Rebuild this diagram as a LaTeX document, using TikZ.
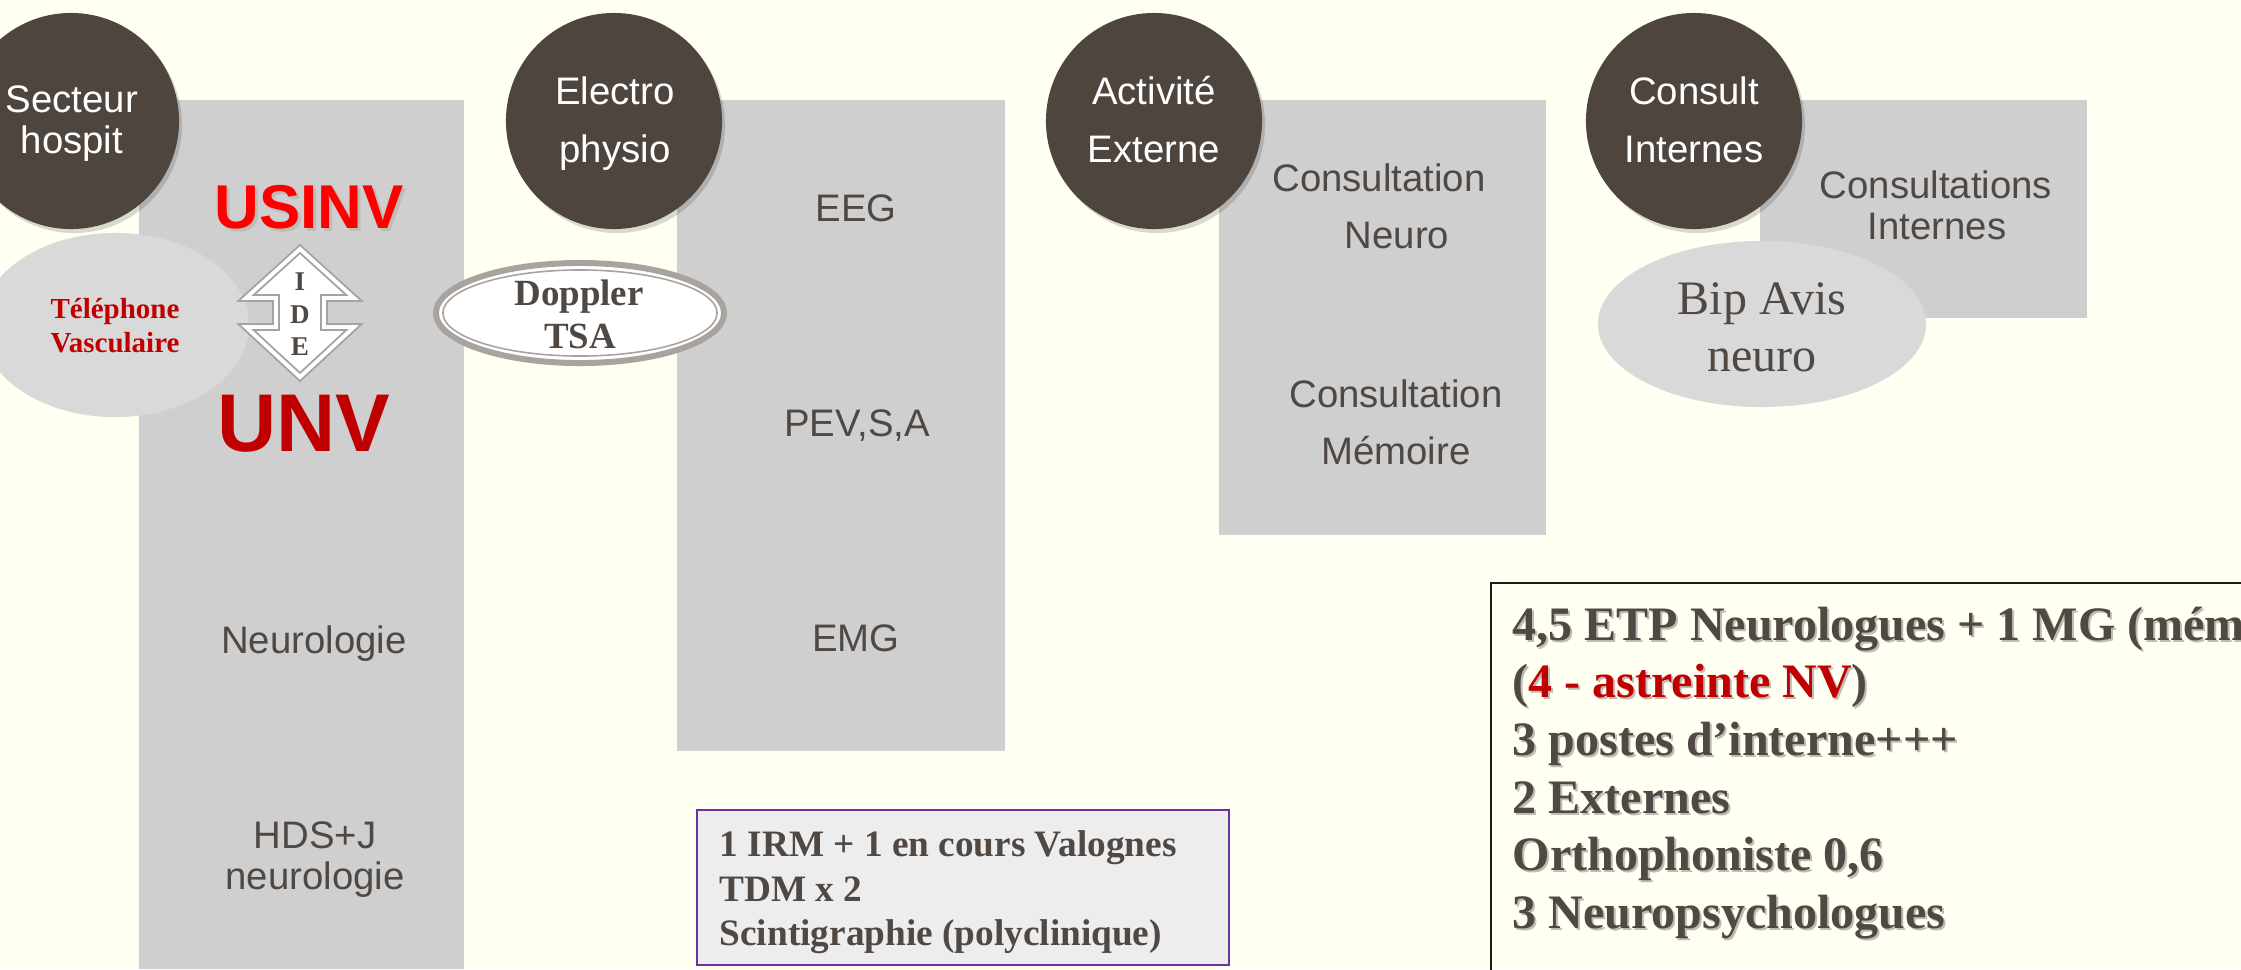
\documentclass[tikz,border=0pt]{standalone}
\usepackage{fontspec}
\setmainfont{Liberation Serif}
\setsansfont{Liberation Sans}
\definecolor{bgcream}{RGB}{255,255,242}
\definecolor{colgray}{RGB}{207,207,207}
\definecolor{darkc}{RGB}{79,69,63}
\definecolor{txtc}{RGB}{80,72,67}
\definecolor{lightc}{RGB}{217,217,217}
\definecolor{redA}{RGB}{255,0,0}
\definecolor{redB}{RGB}{192,0,0}
\definecolor{edgegray}{RGB}{168,163,158}
\definecolor{boxfill}{RGB}{237,237,237}
\definecolor{boxedge}{RGB}{112,48,160}
\definecolor{shadowc}{RGB}{190,188,182}
\tikzset{
  headc/.style={circle, fill=darkc, minimum size=2.16cm, inner sep=0pt},
  sanst/.style={font=\sffamily\fontsize{10.9}{13}\selectfont, inner sep=0pt, anchor=base},
  headtxt/.style={sanst, text=white},
  coltxt/.style={sanst, text=txtc},
  teltxt/.style={font=\bfseries\fontsize{8.25}{10}\selectfont, text=redB, inner sep=0pt, anchor=base},
  idetxt/.style={font=\bfseries\fontsize{7.7}{9}\selectfont, text=txtc, inner sep=0pt, anchor=base},
  dopptxt/.style={font=\bfseries\fontsize{10.5}{12.8}\selectfont, text=txtc, inner sep=0pt, anchor=base},
  biptxt/.style={font=\fontsize{13.66}{16.2}\selectfont, text=txtc, inner sep=0pt, anchor=base},
  irmtxt/.style={font=\bfseries\fontsize{10.6}{12.8}\selectfont, text=txtc, inner sep=0pt, anchor=base west},
  rtxt/.style={font=\bfseries\fontsize{13.66}{16.4}\selectfont, text=txtc, inner sep=0pt, anchor=base west},
  rshadow/.style={rtxt, text=shadowc},
}
\begin{document}
\begin{tikzpicture}[x=0.01cm,y=-0.01cm]
\useasboundingbox (0,0) rectangle (2241,969);
\fill[bgcream] (0,0) rectangle (2241,969);

% gray columns
\fill[colgray] (139,100) rectangle (464,969);
\fill[colgray] (677,100) rectangle (1005,751);
\fill[colgray] (1219,100) rectangle (1546,535);
\fill[colgray] (1760,100) rectangle (2087,318);

% heading circles with soft shadow
\foreach \cx in {71,614,1154,1694}
  \fill[black,opacity=0.15] (\cx+3,125) circle[radius=1.08cm];
\node[headc] (h1) at (71,121) {};
\node[headc] (h2) at (614,121) {};
\node[headc] (h3) at (1154,121) {};
\node[headc] (h4) at (1694,121) {};
\node[headtxt] (h1a) at (72,112) {Secteur};
\node[headtxt] (h1b) at (72,153) {hospit};
\node[headtxt] (h2a) at (615,104) {Electro};
\node[headtxt] (h2b) at (615,162) {physio};
\node[headtxt] (h3a) at (1154,104) {Activité};
\node[headtxt] (h3b) at (1154,162) {Externe};
\node[headtxt] (h4a) at (1694,104) {Consult};
\node[headtxt] (h4b) at (1694,162) {Internes};

% column 1
\fill[lightc] (115,325) ellipse[x radius=1.34cm, y radius=0.92cm];
\node[teltxt] (tel1) at (115,318) {Téléphone};
\node[teltxt] (tel2) at (115,352) {Vasculaire};
\node[font=\sffamily\bfseries\fontsize{17.6}{20}\selectfont, text=shadowc, inner sep=0pt, anchor=base] (usinvs) at (312,231) {USINV};
\node[font=\sffamily\bfseries\fontsize{17.6}{20}\selectfont, text=redA, inner sep=0pt, anchor=base] (usinv) at (309,228) {USINV};
\node[font=\sffamily\bfseries\fontsize{23.3}{26}\selectfont, text=redB, inner sep=0pt, anchor=base] (unv) at (304,451) {UNV};
\path[fill=white, draw=edgegray, line width=2.2pt]
  (300,249) -- (354,298) -- (324,298) -- (324,327) -- (354,327) -- (300,377)
  -- (246,327) -- (276,327) -- (276,298) -- (246,298) -- cycle;
\path[draw=white, line width=1.1pt]
  (300,249) -- (354,298) -- (324,298) -- (324,327) -- (354,327) -- (300,377)
  -- (246,327) -- (276,327) -- (276,298) -- (246,298) -- cycle;
\node[idetxt] (ideI) at (300,290) {I};
\node[idetxt] (ideD) at (300,323) {D};
\node[idetxt] (ideE) at (300,355) {E};
\node[coltxt] (neur) at (314,653) {Neurologie};
\node[coltxt] (hds1) at (315,848) {HDS+J};
\node[coltxt] (hds2) at (315,889) {neurologie};

% column 2
\filldraw[fill=white, draw=edgegray, line width=1.7pt] (580,313) ellipse[x radius=1.44cm, y radius=0.50cm];
\draw[edgegray, line width=0.45pt] (580,313) ellipse[x radius=1.37cm, y radius=0.43cm];
\node[dopptxt] (dop1) at (579,305) {Doppler};
\node[dopptxt] (dop2) at (580,348) {TSA};
\node[coltxt] (eeg) at (856,221) {EEG};
\node[coltxt] (pev) at (857,436) {PEV,S,A};
\node[coltxt] (emg) at (856,651) {EMG};

% column 3
\node[coltxt] (cn1) at (1379,191) {Consultation};
\node[coltxt] (cn2) at (1397,248) {Neuro};
\node[coltxt] (cm1) at (1396,407) {Consultation};
\node[coltxt] (cm2) at (1396,464) {Mémoire};

% column 4
\node[coltxt] (ci1) at (1936,198) {Consultations};
\node[coltxt] (ci2) at (1937,239) {Internes};
\fill[lightc] (1762,324) ellipse[x radius=1.64cm, y radius=0.83cm];
\node[biptxt] (bip1) at (1762,314) {Bip Avis};
\node[biptxt] (bip2) at (1762,371) {neuro};

% imaging box
\draw[boxedge, line width=0.6pt, fill=boxfill] (697,810) rectangle (1229,965);
\node[irmtxt] (irm1) at (719,856) {1 IRM + 1 en cours Valognes};
\node[irmtxt] (irm2) at (719,901) {TDM x 2};
\node[irmtxt] (irm3) at (719,945) {Scintigraphie (polyclinique)};

% staff box
\draw[black!90, line width=0.75pt] (1491,583) rectangle (2320,1020);
\node[rshadow] (r1s) at (1514,642) {4,5 ETP Neurologues + 1 MG (mém};
\node[rshadow] (r2s) at (1514,699) {(4 - astreinte NV)};
\node[rshadow] (r3s) at (1514,757) {3 postes d’interne+++};
\node[rshadow] (r4s) at (1514,815) {2 Externes};
\node[rshadow] (r5s) at (1514,872) {Orthophoniste 0,6};
\node[rshadow] (r6s) at (1514,930) {3 Neuropsychologues};
\node[rtxt] (r1) at (1512,640) {4,5 ETP Neurologues + 1 MG (mém};
\node[rtxt] (r2) at (1512,697) {(\textcolor{redB}{4 - astreinte NV})};
\node[rtxt] (r3) at (1512,755) {3 postes d’interne+++};
\node[rtxt] (r4) at (1512,813) {2 Externes};
\node[rtxt] (r5) at (1512,870) {Orthophoniste 0,6};
\node[rtxt] (r6) at (1512,928) {3 Neuropsychologues};
\end{tikzpicture}
\end{document}
